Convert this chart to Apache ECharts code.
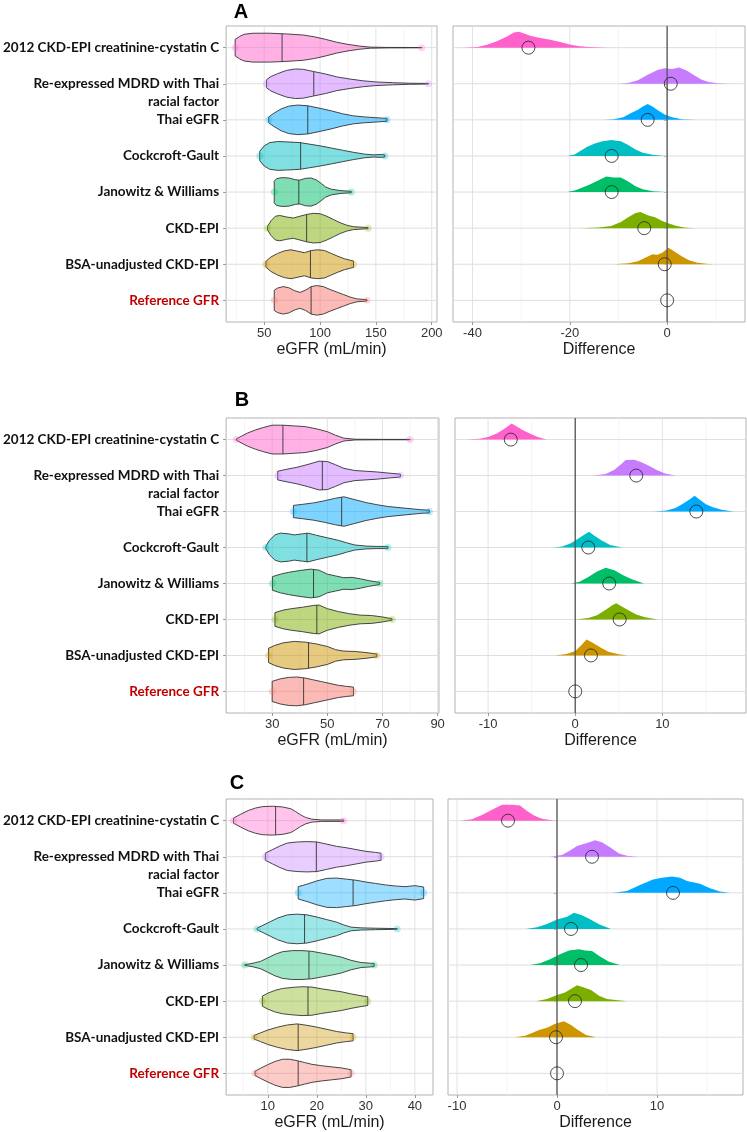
<!DOCTYPE html>
<html>
<head>
<meta charset="utf-8">
<script src="https://cdn.jsdelivr.net/npm/echarts@6/dist/echarts.min.js"></script>
<style>
html, body { margin: 0; padding: 0; background: #fff; }
#chart { width: 747px; height: 1132px; }
</style>
</head>
<body>
<div id="chart"></div>
<script>
// categories, top to bottom
var categories = ['2012 CKD-EPI creatinine-cystatin C', 'Re-expressed MDRD with Thai racial factor', 'Thai eGFR',
    'Cockcroft-Gault', 'Janowitz & Williams', 'CKD-EPI', 'BSA-unadjusted CKD-EPI', 'Reference GFR'];
var colors = ['#FF61CC', '#C77CFF', '#00A9FF', '#00BFC4', '#00BE67', '#7CAE00', '#CD9600', '#F8766D'];

// violin outlines: [eGFR, half width in row units]
var violinA = [
    [[24,0.23],[28,0.31],[32,0.37],[40,0.40],[55,0.40],[70,0.38],[85,0.35],[95,0.30],[105,0.23],[115,0.15],[125,0.09],[135,0.045],[145,0.015],[160,0.006],[191,0.004]],
    [[52,0.11],[56,0.2],[62,0.28],[70,0.37],[78,0.41],[85,0.40],[94,0.34],[105,0.27],[115,0.19],[127,0.13],[139,0.08],[150,0.05],[165,0.03],[180,0.015],[197,0.008]],
    [[54,0.08],[58,0.17],[65,0.3],[72,0.38],[80,0.41],[89,0.39],[100,0.32],[110,0.25],[120,0.17],[130,0.11],[140,0.08],[150,0.06],[160,0.04]],
    [[46,0.13],[50,0.28],[55,0.37],[62,0.40],[70,0.39],[82,0.37],[90,0.33],[100,0.28],[110,0.22],[120,0.16],[130,0.1],[140,0.05],[148,0.03],[155,0.04],[158,0.03]],
    [[59,0.3],[61,0.37],[66,0.40],[72,0.39],[78,0.34],[82,0.33],[87,0.38],[92,0.39],[97,0.33],[101,0.24],[105,0.14],[110,0.08],[118,0.04],[128,0.02]],
    [[53,0.05],[56,0.2],[60,0.33],[64,0.35],[70,0.31],[76,0.28],[82,0.33],[88,0.38],[94,0.41],[100,0.40],[106,0.33],[112,0.24],[118,0.15],[124,0.08],[130,0.04],[143,0.015]],
    [[51.5,0.08],[56,0.2],[62,0.3],[68,0.37],[74,0.40],[80,0.36],[86,0.32],[92,0.38],[98,0.40],[104,0.38],[110,0.3],[116,0.22],[122,0.15],[127,0.11],[130,0.09]],
    [[59,0.28],[62,0.34],[67,0.38],[72,0.35],[77,0.27],[82,0.22],[87,0.28],[92,0.38],[97,0.41],[103,0.38],[109,0.3],[115,0.23],[121,0.16],[127,0.09],[133,0.04],[142,0.02]]
];
var medianA = [66, 94.4, 89, 82.6, 81, 88, 91.4, 92];

var violinB = [
    [[17,0.02],[19,0.1],[21,0.18],[24,0.27],[27,0.34],[30,0.40],[34,0.40],[38,0.38],[42,0.36],[46,0.3],[50,0.22],[53,0.12],[56,0.04],[60,0.01],[70,0.005],[80,0.005]],
    [[32,0.12],[35,0.17],[39,0.23],[43,0.31],[47,0.40],[50,0.39],[53,0.3],[56,0.2],[60,0.14],[64,0.12],[68,0.1],[72,0.07],[76.5,0.04]],
    [[37.7,0.17],[41,0.2],[45,0.24],[49,0.3],[53,0.37],[56,0.41],[60,0.33],[64,0.25],[68,0.19],[72,0.14],[76,0.11],[80,0.08],[84,0.05],[87,0.04]],
    [[27.7,0.03],[29,0.2],[31,0.35],[33,0.40],[36,0.38],[38,0.35],[41,0.38],[43,0.40],[46,0.34],[50,0.27],[54,0.2],[57,0.13],[60,0.07],[64,0.04],[68,0.03],[72,0.03]],
    [[30.1,0.19],[33,0.26],[36,0.31],[40,0.36],[44,0.40],[47,0.37],[50,0.26],[53,0.21],[56,0.16],[59,0.17],[62,0.13],[65,0.08],[69,0.03]],
    [[31,0.19],[34,0.26],[37,0.3],[41,0.34],[45,0.39],[47,0.40],[50,0.3],[54,0.22],[58,0.16],[62,0.12],[66,0.11],[70,0.07],[73.5,0.02]],
    [[28.7,0.2],[31,0.28],[34,0.35],[38,0.39],[42,0.37],[46,0.32],[50,0.25],[53,0.16],[56,0.12],[60,0.11],[64,0.08],[68,0.04]],
    [[30,0.28],[33,0.35],[36,0.39],[39,0.40],[42,0.37],[45,0.32],[48,0.27],[51,0.22],[54,0.17],[57,0.14],[59.5,0.12]]
];
var medianB = [33.9, 48.2, 55.2, 42.6, 45, 46.2, 43.2, 41.4];

var violinC = [
    [[3,0.07],[4.5,0.18],[6,0.28],[7.5,0.35],[9,0.39],[11,0.40],[13,0.38],[14.7,0.33],[15.7,0.25],[16.7,0.16],[17.7,0.09],[19,0.04],[21,0.02],[25.5,0.02]],
    [[9.5,0.1],[11,0.2],[12.5,0.3],[14,0.38],[16,0.41],[18,0.42],[20,0.41],[22,0.35],[24,0.29],[26,0.25],[28,0.2],[30,0.15],[32,0.12],[33.1,0.1]],
    [[16.2,0.17],[18,0.24],[20,0.33],[22,0.4],[24,0.41],[26,0.38],[28,0.35],[30,0.3],[32,0.26],[34,0.22],[36,0.19],[38,0.17],[40,0.2],[41.8,0.16]],
    [[7.8,0.02],[9,0.1],[10.5,0.2],[12,0.3],[14,0.39],[16,0.41],[18,0.39],[20,0.33],[22,0.26],[24,0.19],[25.5,0.11],[27,0.05],[29,0.03],[32,0.02],[36.4,0.01]],
    [[5.3,0.01],[7,0.05],[8.5,0.1],[10,0.2],[11.5,0.3],[13,0.37],[15,0.40],[17,0.40],[19,0.38],[21,0.33],[23,0.28],[25,0.22],[27,0.13],[29,0.07],[31,0.05],[31.7,0.04]],
    [[8.9,0.14],[10,0.22],[11.5,0.3],[13,0.35],[15,0.38],[17,0.40],[19,0.39],[21,0.34],[23,0.3],[25,0.26],[27,0.2],[29,0.15],[30.4,0.12]],
    [[7.2,0.05],[8.5,0.12],[10,0.2],[12,0.28],[14,0.34],[16,0.37],[18,0.33],[20,0.28],[22,0.22],[24,0.16],[26,0.12],[27.4,0.1]],
    [[7.4,0.06],[8.5,0.14],[10,0.24],[11.5,0.33],[13,0.39],[14.5,0.39],[16,0.35],[17.5,0.3],[19,0.25],[21,0.21],[23,0.18],[25,0.15],[27,0.1]]
];
var medianC = [11.6, 19.9, 27.4, 17.5, 18.4, 18.2, 16.2, 16.2];

// difference densities: [difference, height in row units]; reference row has none
var densityA = [
    [[-42,0],[-39,0.02],[-37,0.08],[-35,0.18],[-33,0.3],[-31.5,0.42],[-30.5,0.44],[-29.5,0.4],[-28,0.32],[-26,0.27],[-24,0.22],[-22,0.16],[-20,0.09],[-18,0.04],[-16,0.015],[-12,0]],
    [[-10,0],[-8,0.02],[-6,0.1],[-4,0.25],[-2,0.38],[-0.5,0.43],[1,0.41],[2.5,0.45],[4,0.37],[5.5,0.24],[7,0.12],[8.5,0.05],[10.5,0.015],[13,0]],
    [[-13,0],[-11,0.02],[-9,0.07],[-7.5,0.18],[-6,0.28],[-5,0.37],[-4,0.44],[-3,0.37],[-2,0.27],[-0.5,0.15],[1,0.07],[3,0.02],[6,0]],
    [[-20.5,0],[-19,0.04],[-18,0.12],[-16.5,0.25],[-15,0.34],[-13.5,0.4],[-11.5,0.44],[-9.5,0.41],[-8,0.3],[-6.5,0.18],[-5,0.09],[-3,0.03],[-0.5,0]],
    [[-20.5,0],[-19,0.04],[-17.5,0.12],[-16,0.2],[-14.5,0.3],[-12.5,0.43],[-11,0.4],[-9.5,0.4],[-8,0.29],[-6.5,0.16],[-5,0.08],[-3,0.02],[-0.5,0]],
    [[-18,0],[-14,0.02],[-11.5,0.06],[-9.5,0.17],[-8,0.3],[-6.5,0.42],[-5.5,0.45],[-4,0.36],[-2.5,0.3],[-1,0.2],[0.5,0.12],[2,0.06],[3.5,0.02],[5.5,0]],
    [[-11,0],[-8,0.03],[-6,0.08],[-4.5,0.18],[-3,0.28],[-2,0.26],[-1,0.32],[0.3,0.46],[1.5,0.35],[3,0.22],[4.5,0.11],[6,0.05],[8,0.015],[9.5,0]],
    null
];
var meanA = [-28.5, 0.75, -4.0, -11.4, -11.4, -4.7, -0.5, 0];

var densityB = [
    [[-12.5,0],[-11,0.02],[-10,0.07],[-9,0.17],[-8.3,0.27],[-7.7,0.38],[-7.3,0.45],[-6.8,0.38],[-6,0.26],[-5.2,0.17],[-4.3,0.07],[-3.3,0]],
    [[2,0],[3.5,0.04],[4.5,0.16],[5.3,0.32],[5.8,0.43],[6.8,0.44],[7.6,0.37],[8.4,0.28],[9.3,0.16],[10.3,0.06],[11.5,0]],
    [[9,0],[10.5,0.03],[11.5,0.1],[12.4,0.22],[13.2,0.35],[13.7,0.44],[14.3,0.33],[15,0.2],[15.8,0.12],[16.8,0.05],[18.2,0]],
    [[-2.5,0],[-1.5,0.03],[-0.5,0.12],[0.5,0.27],[1.2,0.38],[1.6,0.44],[2.2,0.33],[3,0.2],[4,0.07],[5.4,0]],
    [[-0.5,0],[0.5,0.05],[1.5,0.18],[2.5,0.33],[3.5,0.44],[4.5,0.37],[5.5,0.23],[6.5,0.12],[7.9,0]],
    [[0,0],[1.5,0.04],[2.5,0.12],[3.5,0.27],[4.3,0.4],[4.7,0.45],[5.3,0.37],[6,0.27],[7,0.14],[8,0.06],[9.5,0]],
    [[-2.3,0],[-1,0.04],[0,0.12],[0.7,0.28],[1.3,0.44],[2,0.35],[2.9,0.22],[3.8,0.1],[5,0.03],[6,0]],
    null
];
var meanB = [-7.4, 7.0, 13.9, 1.5, 3.9, 5.1, 1.8, 0];

var densityC = [
    [[-9.6,0],[-8.5,0.04],[-7.5,0.16],[-6.5,0.3],[-5.5,0.44],[-4.5,0.44],[-3.7,0.42],[-3,0.27],[-2.3,0.14],[-1.5,0.05],[-0.2,0]],
    [[-0.7,0],[0.5,0.05],[1.3,0.17],[2,0.3],[3,0.38],[3.8,0.46],[4.5,0.4],[5.3,0.26],[6.2,0.09],[7,0.03],[8.1,0]],
    [[5.6,0],[7,0.05],[8.3,0.22],[9.6,0.37],[10.5,0.42],[11.5,0.45],[12.3,0.42],[13,0.33],[14.3,0.25],[15.3,0.13],[16.3,0.04],[17.3,0]],
    [[-3.1,0],[-2,0.05],[-1,0.14],[0,0.26],[1,0.34],[1.7,0.45],[2.5,0.38],[3.3,0.27],[4.2,0.13],[5.4,0]],
    [[-2.7,0],[-1.7,0.05],[-0.7,0.16],[0.3,0.3],[1.2,0.4],[2.2,0.44],[2.8,0.4],[3.5,0.39],[4.3,0.24],[5.2,0.09],[6.3,0]],
    [[-2.1,0],[-1,0.06],[0,0.17],[0.8,0.24],[1.5,0.36],[2,0.44],[2.7,0.38],[3.4,0.31],[4.2,0.15],[5,0.06],[7,0]],
    [[-4.2,0],[-3.2,0.04],[-2.5,0.12],[-1.8,0.2],[-1,0.26],[-0.3,0.36],[0.7,0.44],[1.4,0.34],[2.1,0.2],[2.9,0.06],[3.9,0]],
    null
];
var meanC = [-4.9, 3.5, 11.6, 1.4, 2.4, 1.8, -0.1, 0];

// tick values
var ticksA = [50, 100, 150, 200], minorA = [25, 75, 125, 175];
var ticksAd = [-40, -20, 0], minorAd = [-30, -10, 10];
var ticksB = [30, 50, 70, 90], minorB = [20, 40, 60, 80];
var ticksBd = [-10, 0, 10], minorBd = [-5, 5, 15];
var ticksC = [10, 20, 30, 40], minorC = [5, 15, 25, 35];
var ticksCd = [-10, 0, 10], minorCd = [-5, 5, 15];
var rows = [1, 2, 3, 4, 5, 6, 7, 8];

var panels = [
    {letter: 'A', lx: 241, ly: 12, violins: violinA, medians: medianA, dens: densityA, means: meanA,
     left: [225, 26, 212, 296], right: [453, 26, 292, 296], xl: [15.9, 204.7], xr: [-44, 16],
     tl: ticksA, ml: minorA, tr: ticksAd, mr: minorAd, alpha: 0.5},
    {letter: 'B', lx: 242, ly: 400, violins: violinB, medians: medianB, dens: densityB, means: meanB,
     left: [226, 418, 213, 295], right: [455, 418, 291, 295], xl: [13.3, 90.5], xr: [-13.8, 19.6],
     tl: ticksB, ml: minorB, tr: ticksBd, mr: minorBd, alpha: 0.5},
    {letter: 'C', lx: 237, ly: 783, violins: violinC, medians: medianC, dens: densityC, means: meanC,
     left: [225, 799, 208, 296], right: [448, 799, 295, 296], xl: [1.5, 43.7], xr: [-10.9, 18.6],
     tl: ticksC, ml: minorC, tr: ticksCd, mr: minorCd, alpha: 0.38}
];

function rgba(hex, a) {
    var n = parseInt(hex.slice(1), 16);
    return 'rgba(' + (n >> 16) + ',' + ((n >> 8) & 255) + ',' + (n & 255) + ',' + a + ')';
}

function widthAt(pts, v) {
    for (var k = 1; k < pts.length; k++) {
        if (v <= pts[k][0]) {
            var t = (v - pts[k - 1][0]) / (pts[k][0] - pts[k - 1][0]);
            return pts[k - 1][1] + t * (pts[k][1] - pts[k - 1][1]);
        }
    }
    return pts[pts.length - 1][1];
}

function labelText(v) {
    if (v === 2) return '\n{b|Re-expressed MDRD with Thai}\n{b|racial factor}';
    if (v === 8) return '{r|' + categories[7] + '}';
    return '{b|' + categories[v - 1] + '}';
}

var grids = [], xAxes = [], yAxes = [], series = [], graphics = [];

function gridLineSeries(gi, major, minor, xmin) {
    var data = [];
    major.forEach(function (v) { data.push([v, 0]); });
    minor.forEach(function (v) { data.push([v, 1]); });
    rows.forEach(function (r) { data.push([r, 3]); });
    return {
        type: 'custom', xAxisIndex: gi, yAxisIndex: gi, silent: true, z: 1, data: data,
        renderItem: function (params, api) {
            var v = api.value(0), kind = api.value(1), cs = params.coordSys;
            if (kind === 3) {
                var y = api.coord([xmin, v])[1];
                return {type: 'line', shape: {x1: cs.x, y1: y, x2: cs.x + cs.width, y2: y},
                    style: {stroke: '#dedede', lineWidth: 1}};
            }
            var x = api.coord([v, 1])[0];
            return {type: 'line', shape: {x1: x, y1: cs.y, x2: x, y2: cs.y + cs.height},
                style: {stroke: kind === 0 ? '#e2e2e2' : '#efefef', lineWidth: kind === 0 ? 1 : 0.7}};
        }
    };
}

panels.forEach(function (p, pi) {
    var gl = pi * 2, gr = pi * 2 + 1;
    [p.left, p.right].forEach(function (g) {
        grids.push({left: g[0], top: g[1], width: g[2], height: g[3], show: true,
            borderColor: '#b3b3b3', borderWidth: 1, backgroundColor: '#fff'});
    });
    [[p.xl, p.tl, 'eGFR (mL/min)'], [p.xr, p.tr, 'Difference']].forEach(function (a, k) {
        xAxes.push({
            gridIndex: gl + k, type: 'value', min: a[0][0], max: a[0][1],
            name: a[2], nameLocation: 'middle', nameGap: 20,
            nameTextStyle: {fontSize: 16, color: '#1a1a1a', fontFamily: 'Liberation Sans'},
            axisLine: {show: false}, splitLine: {show: false},
            axisTick: {show: true, length: 3, customValues: a[1], lineStyle: {color: '#999'}},
            axisLabel: {customValues: a[1], fontSize: 13, color: '#333', margin: 5, fontFamily: 'Liberation Sans'}
        });
        yAxes.push({
            gridIndex: gl + k, type: 'value', min: 0.4, max: 8.6, inverse: true,
            axisLine: {show: false}, splitLine: {show: false},
            axisTick: {show: true, length: 3, customValues: rows, lineStyle: {color: '#999'}},
            axisLabel: {
                show: k === 0, customValues: rows, margin: 7, lineHeight: 18,
                formatter: labelText,
                rich: {
                    b: {fontFamily: 'Lato', fontWeight: 'bold', fontSize: 13.5, color: '#111', lineHeight: 18},
                    r: {fontFamily: 'Lato', fontWeight: 'bold', fontSize: 13.5, color: '#c00000', lineHeight: 18}
                }
            }
        });
    });

    // left: gridlines, violins, end points
    series.push(gridLineSeries(gl, p.tl, p.ml, p.xl[0]));
    series.push({
        type: 'custom', xAxisIndex: gl, yAxisIndex: gl, silent: true, z: 2,
        data: p.medians.map(function (m, i) { return [m, i + 1]; }),
        renderItem: function (params, api) {
            var i = params.dataIndex, pts = p.violins[i], row = api.value(1), m = api.value(0);
            var poly = [];
            pts.forEach(function (q) { poly.push(api.coord([q[0], row - q[1]])); });
            pts.slice().reverse().forEach(function (q) { poly.push(api.coord([q[0], row + q[1]])); });
            var hw = widthAt(pts, m);
            var a = api.coord([m, row - hw]), b = api.coord([m, row + hw]);
            return {type: 'group', children: [
                {type: 'polygon', shape: {points: poly},
                    style: {fill: rgba(colors[i], p.alpha), stroke: '#333', lineWidth: 0.9}},
                {type: 'line', shape: {x1: a[0], y1: a[1], x2: b[0], y2: b[1]},
                    style: {stroke: '#333', lineWidth: 0.9}}
            ]};
        }
    });
    var ends = [];
    p.violins.forEach(function (pts, i) {
        ends.push({value: [pts[0][0], i + 1], itemStyle: {color: rgba(colors[i], 0.35)}});
        ends.push({value: [pts[pts.length - 1][0], i + 1], itemStyle: {color: rgba(colors[i], 0.35)}});
    });
    series.push({type: 'scatter', xAxisIndex: gl, yAxisIndex: gl, silent: true, z: 3,
        symbolSize: 7, data: ends});

    // right: gridlines, densities, zero line, mean circles
    series.push(gridLineSeries(gr, p.tr, p.mr, p.xr[0]));
    var densData = [];
    p.dens.forEach(function (d, i) { if (d) densData.push([i, i + 1]); });
    series.push({
        type: 'custom', xAxisIndex: gr, yAxisIndex: gr, silent: true, z: 2, data: densData,
        renderItem: function (params, api) {
            var i = api.value(0), row = api.value(1), pts = p.dens[i];
            var poly = [];
            pts.forEach(function (q) { poly.push(api.coord([q[0], row - q[1]])); });
            poly.push(api.coord([pts[pts.length - 1][0], row]));
            poly.push(api.coord([pts[0][0], row]));
            return {type: 'polygon', shape: {points: poly}, style: {fill: colors[i]}};
        }
    });
    series.push({
        type: 'custom', xAxisIndex: gr, yAxisIndex: gr, silent: true, z: 3, data: [[0, 1]],
        renderItem: function (params, api) {
            var cs = params.coordSys, x = api.coord([api.value(0), 1])[0];
            return {type: 'line', shape: {x1: x, y1: cs.y, x2: x, y2: cs.y + cs.height},
                style: {stroke: '#555', lineWidth: 1.3}};
        }
    });
    series.push({
        type: 'scatter', xAxisIndex: gr, yAxisIndex: gr, silent: true, z: 4, symbolSize: 13,
        data: p.means.map(function (m, i) { return [m, i + 1]; }),
        itemStyle: {color: 'rgba(0,0,0,0)', borderColor: '#222', borderWidth: 1}
    });

    graphics.push({type: 'text', x: p.lx, y: p.ly,
        style: {text: p.letter, fontSize: 20, fontWeight: 'bold', fontFamily: 'Liberation Sans',
            fill: '#000', align: 'center', verticalAlign: 'middle'}});
});

var chart = echarts.init(document.getElementById('chart'));
chart.setOption({
    animation: false,
    backgroundColor: '#fff',
    textStyle: {fontFamily: 'Liberation Sans'},
    grid: grids,
    xAxis: xAxes,
    yAxis: yAxes,
    series: series,
    graphic: graphics
});
</script>
</body>
</html>
